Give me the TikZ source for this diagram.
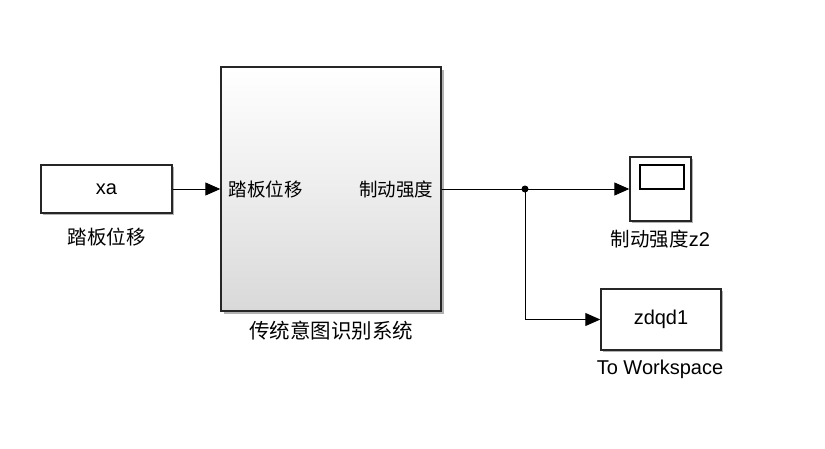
\documentclass[tikz,border=0pt]{standalone}
\usepackage{fontspec}
\setmainfont{Liberation Sans}
\newfontfamily\cjk{Noto Sans CJK SC}
\usetikzlibrary{arrows.meta}
\begin{document}
\begin{tikzpicture}[x=1pt,y=-1pt,
  blk/.style={draw=black!85,line width=1.4pt,fill=white,inner sep=0pt,
    preaction={fill=black!30,transform canvas={xshift=2.2pt,yshift=-2.2pt}}},
  wire/.style={line width=0.9pt,draw=black},
  tip/.style={-{Triangle[length=15pt,width=13pt]}},
  lbl/.style={font=\fontsize{20}{23}\selectfont},
  clbl/.style={font=\cjk\fontsize{19.5}{23}\selectfont}]
\useasboundingbox (0,0) rectangle (825,448);
\fill[white] (0,0) rectangle (825,448);
% blocks
\node[blk,minimum width=131pt,minimum height=48pt] (xa) at (106.5,189) {};
\node[lbl] at (xa.center) {xa};
\node[clbl,anchor=north] (xalbl) at (106.5,224) {踏板位移};
% subsystem
\fill[black!30] (223.5,69.5) rectangle (443.5,313.5);
\shade[top color=white,bottom color=black!15,middle color=white!93!black] (221,67) rectangle (441,311);
\node[draw=black!85,line width=1.4pt,minimum width=220pt,minimum height=244pt,inner sep=0pt] (sub) at (331,189) {};
\node[clbl,font=\cjk\fontsize{18.5}{21}\selectfont,anchor=west] (inL) at (225,189) {踏板位移};
\node[clbl,font=\cjk\fontsize{18.5}{21}\selectfont,anchor=east] (outL) at (437,189) {制动强度};
\node[clbl,font=\cjk\fontsize{20.5}{23}\selectfont,anchor=north] (sublbl) at (331,318) {传统意图识别系统};
% scope
\node[blk,minimum width=61pt,minimum height=64pt] (scope) at (660.5,189) {};
\node[draw=black,line width=1.4pt,minimum width=44pt,minimum height=24pt,inner sep=0pt] (screen) at (662,177) {};
\node[anchor=north,inner sep=0pt] (scopelbl) at (660.5,230) {{\cjk\fontsize{19.5}{23}\selectfont 制动强度}{\fontsize{20}{23}\selectfont z2}};
% to workspace
\node[blk,minimum width=120pt,minimum height=61pt] (tows) at (661,319.5) {};
\node[lbl] at (tows.center) {zdqd1};
\node[lbl,anchor=north,inner sep=0pt] (towslbl) at (660,360) {To Workspace};
% wires
\coordinate (j) at (525,189);
\draw[wire,tip] (xa.east) -- (sub.west);
\draw[wire] (sub.east) -- (j);
\draw[wire,tip] (j) -- (scope.west);
\draw[wire,tip] (j) |- (tows.west);
\fill (j) circle (3.5pt);
\end{tikzpicture}
\end{document}
